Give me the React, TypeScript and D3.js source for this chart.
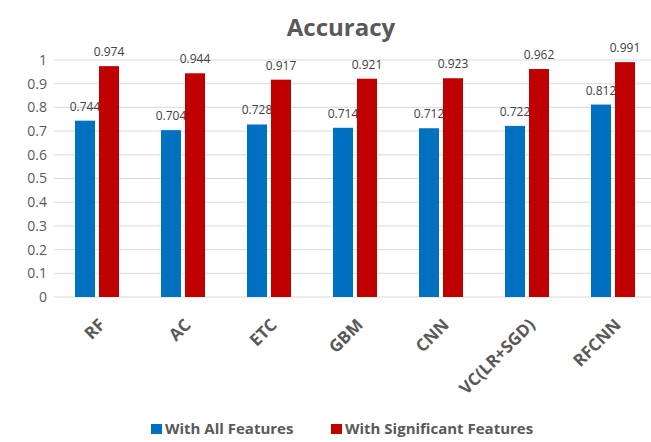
import * as React from "react";
import * as d3 from "d3";

const categories = ["RF", "AC", "ETC", "GBM", "CNN", "VC(LR+SGD)", "RFCNN"];
const seriesNames = ["With All Features", "With Significant Features"];
const allFeatures = [0.744, 0.704, 0.728, 0.714, 0.712, 0.722, 0.812];
const sigFeatures = [0.974, 0.944, 0.917, 0.921, 0.923, 0.962, 0.991];
const yTicks = [0, 0.1, 0.2, 0.3, 0.4, 0.5, 0.6, 0.7, 0.8, 0.9, 1];
const colors = ["#0070C0", "#C00000"];

const font = "'Open Sans', sans-serif";
const gray = "#595959";

export default function App() {
  const width = 651;
  const height = 442;
  const left = 54;
  const right = 656;
  const top = 60;
  const bottom = 297;

  const x0 = d3.scaleBand().domain(categories).range([left, right]).padding(0);
  const x1 = d3
    .scaleBand()
    .domain(seriesNames)
    .range([-22, 22])
    .paddingInner(1 / 6);
  const y = d3.scaleLinear().domain([0, 1]).range([bottom, top]);

  const series = [allFeatures, sigFeatures];

  return (
    <svg
      width={width}
      height={height}
      style={{ position: "absolute", left: 0, top: 0, background: "#fff" }}
      fontFamily={font}
    >
      <text
        x={341}
        y={36}
        textAnchor="middle"
        fontSize={24}
        fontWeight="bold"
        fill={gray}
      >
        Accuracy
      </text>

      {yTicks.map((t) => (
        <g key={t}>
          <line
            x1={left}
            x2={width}
            y1={y(t)}
            y2={y(t)}
            stroke="#d9d9d9"
            strokeWidth={1}
          />
          <text
            x={47}
            y={y(t)}
            dy="0.35em"
            textAnchor="end"
            fontSize={14}
            fill={gray}
          >
            {d3.format("")(t)}
          </text>
        </g>
      ))}

      {categories.map((c, i) => {
        const cx = x0(c)! + x0.bandwidth() / 2;
        return (
          <g key={c}>
            {series.map((vals, s) => {
              const bx = cx + x1(seriesNames[s])!;
              const v = vals[i];
              return (
                <g key={s}>
                  <rect
                    x={bx}
                    y={y(v)}
                    width={x1.bandwidth()}
                    height={y(0) - y(v)}
                    fill={colors[s]}
                  />
                  <text
                    x={bx + x1.bandwidth() / 2}
                    y={y(v) - 10}
                    textAnchor="middle"
                    fontSize={12}
                    fill="#404040"
                  >
                    {d3.format(".3f")(v)}
                  </text>
                </g>
              );
            })}
            <text
              transform={`translate(${cx + 9},${326}) rotate(-45)`}
              textAnchor="end"
              fontSize={17}
              fontWeight="bold"
              fill={gray}
            >
              {c}
            </text>
          </g>
        );
      })}

      <g>
        <rect x={151} y={424} width={11} height={10} fill={colors[0]} />
        <text x={165} y={434} fontSize={15} fontWeight="bold" fill={gray}>
          {seriesNames[0]}
        </text>
        <rect x={331} y={424} width={11} height={10} fill={colors[1]} />
        <text x={345} y={434} fontSize={15} fontWeight="bold" fill={gray}>
          {seriesNames[1]}
        </text>
      </g>
    </svg>
  );
}
